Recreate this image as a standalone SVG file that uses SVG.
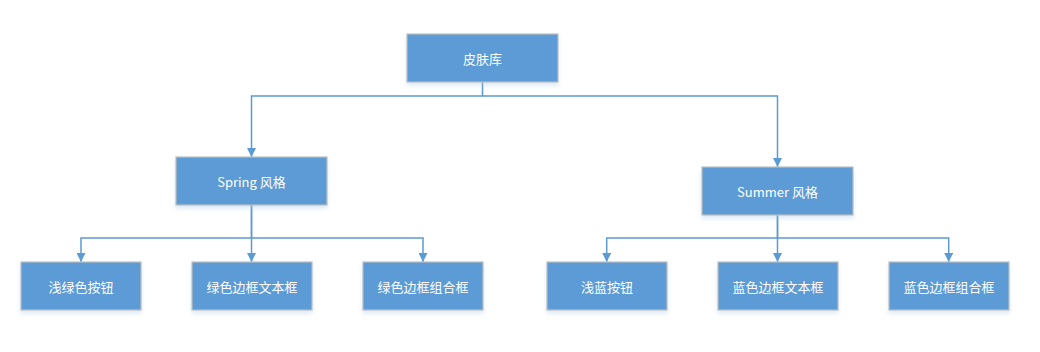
<svg xmlns="http://www.w3.org/2000/svg" width="1040" height="352" viewBox="0 0 1040 352">
<defs>
<marker id="arr" markerWidth="10" markerHeight="9" refX="9" refY="4.5" orient="auto" markerUnits="userSpaceOnUse">
<path d="M0,0 L9,4.5 L0,9 Z" fill="#5B9BD5"/>
</marker>
<filter id="sh" x="-10%" y="-20%" width="120%" height="150%">
<feDropShadow dx="0" dy="3" stdDeviation="2" flood-color="#9DC3E6" flood-opacity="0.35"/>
</filter>
</defs>
<style>
.box{fill:#5B9BD5;stroke:#BFBFBF;stroke-width:1.2;filter:url(#sh)}
.t{fill:#FFFFFF;font-family:"Microsoft YaHei","Noto Sans CJK SC","Noto Sans",sans-serif;font-size:13px;text-anchor:middle;dominant-baseline:central}
.c{fill:none;stroke:#5B9BD5;stroke-width:1.5}
</style>
<g id="connectors">
<path class="c" d="M482.5 82 V96 H251.5 V157" marker-end="url(#arr)"/>
<path class="c" d="M482.5 96 H777.5 V167" marker-end="url(#arr)"/>
<path class="c" d="M251.5 205 V238 H81 V262" marker-end="url(#arr)"/>
<path class="c" d="M251.5 205 V262" marker-end="url(#arr)"/>
<path class="c" d="M251.5 238 H423 V262" marker-end="url(#arr)"/>
<path class="c" d="M777.5 215 V238 H606.7 V262" marker-end="url(#arr)"/>
<path class="c" d="M777.5 215 V262" marker-end="url(#arr)"/>
<path class="c" d="M777.5 238 H948.7 V262" marker-end="url(#arr)"/>
</g>
<g id="root"><rect class="box" x="407" y="34" width="151" height="48"/><text class="t" x="482.5" y="58">皮肤库</text></g>
<g id="spring"><rect class="box" x="176" y="157" width="151" height="48"/><text class="t" x="251.5" y="181">Spring 风格</text></g>
<g id="summer"><rect class="box" x="702" y="167" width="151" height="48"/><text class="t" x="777.5" y="191">Summer 风格</text></g>
<g id="n1"><rect class="box" x="21" y="262" width="120" height="48"/><text class="t" x="81" y="286">浅绿色按钮</text></g>
<g id="n2"><rect class="box" x="192" y="262" width="120" height="48"/><text class="t" x="252" y="286">绿色边框文本框</text></g>
<g id="n3"><rect class="box" x="363" y="262" width="120" height="48"/><text class="t" x="423" y="286">绿色边框组合框</text></g>
<g id="n4"><rect class="box" x="547" y="262" width="120" height="48"/><text class="t" x="607" y="286">浅蓝按钮</text></g>
<g id="n5"><rect class="box" x="718" y="262" width="120" height="48"/><text class="t" x="778" y="286">蓝色边框文本框</text></g>
<g id="n6"><rect class="box" x="889" y="262" width="120" height="48"/><text class="t" x="949" y="286">蓝色边框组合框</text></g>
</svg>
